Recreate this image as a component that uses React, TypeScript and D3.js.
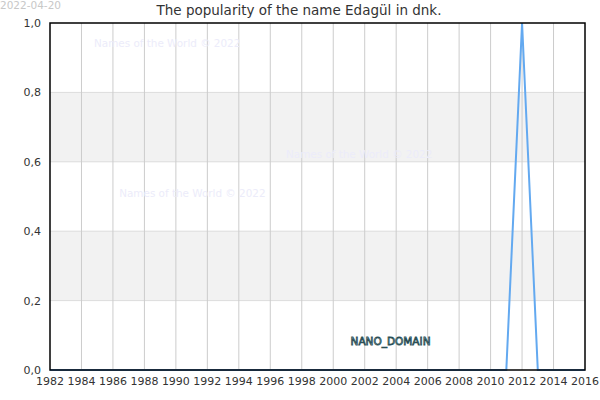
import React from 'react';
import * as d3 from 'd3';

const years: number[] = [
  1982, 1983, 1984, 1985, 1986, 1987, 1988, 1989, 1990, 1991, 1992, 1993,
  1994, 1995, 1996, 1997, 1998, 1999, 2000, 2001, 2002, 2003, 2004, 2005,
  2006, 2007, 2008, 2009, 2010, 2011, 2012, 2013, 2014, 2015, 2016,
];
const popularity: number[] = [
  0, 0, 0, 0, 0, 0, 0, 0, 0, 0, 0, 0,
  0, 0, 0, 0, 0, 0, 0, 0, 0, 0, 0, 0,
  0, 0, 0, 0, 0, 0, 1, 0, 0, 0, 0,
];
const xTicks: number[] = d3.range(1982, 2017, 2);
const yTicks: number[] = [0, 0.2, 0.4, 0.6, 0.8, 1.0];
const bands: [number, number][] = [[0.2, 0.4], [0.6, 0.8]];
const watermarks: { x: number; y: number }[] = [
  { x: 1984.8, y: 0.93 },
  { x: 1997, y: 0.61 },
  { x: 1986.4, y: 0.498 },
];

const W = 600;
const H = 400;
const margin = { top: 23, right: 15, bottom: 30, left: 50 };

export default function App() {
  const x = d3.scaleLinear().domain([1982, 2016]).range([margin.left, W - margin.right]);
  const y = d3.scaleLinear().domain([0, 1]).range([H - margin.bottom, margin.top]);

  const line = d3.line<number>()
    .x((_, i) => x(years[i]))
    .y(d => y(d));

  const font = 'DejaVu Sans, sans-serif';

  return (
    <svg width={W} height={H} style={{ position: 'absolute', left: 0, top: 0, background: '#fff' }}>
      <text x={0} y={9} fontSize={10.5} fill="#c8c8c8" fontFamily={font}>2022-04-20</text>
      <text x={299} y={15} fontSize={13.5} fill="#333" textAnchor="middle" fontFamily={font}>
        The popularity of the name Edagül in dnk.
      </text>

      {/* bands */}
      {bands.map(([a, b]) => (
        <rect key={a} x={x(1982)} y={y(b)} width={x(2016) - x(1982)} height={y(a) - y(b)} fill="#f2f2f2" />
      ))}
      {/* horizontal grid */}
      {yTicks.slice(1, -1).map(t => (
        <line key={t} x1={x(1982)} x2={x(2016)} y1={y(t)} y2={y(t)} stroke="#dcdcdc" strokeWidth={1} />
      ))}
      {/* vertical grid */}
      {xTicks.slice(1, -1).map(t => (
        <line key={t} x1={x(t)} x2={x(t)} y1={y(1)} y2={y(0)} stroke="#cccccc" strokeWidth={1} />
      ))}

      {watermarks.map((w, i) => (
        <text key={i} x={x(w.x)} y={y(w.y)} fontSize={10.4} fill="#ececfa" fontFamily={font}>
          Names of the World © 2022
        </text>
      ))}

      <text x={x(2001.1)} y={y(0.072)} fontSize={10.5} fontFamily={font}
        fill="#b4e0e0" stroke="#2b4e55" strokeWidth={0.8}>
        NANO_DOMAIN
      </text>

      <path d={line(popularity) || ''} fill="none" stroke="#63a9f0" strokeWidth={2} />

      {/* frame */}
      <rect x={x(1982)} y={y(1)} width={x(2016) - x(1982)} height={y(0) - y(1)} fill="none" stroke="#000" strokeWidth={1.5} />

      {yTicks.map(t => (
        <text key={t} x={x(1982) - 9} y={y(t) + 4} fontSize={11} fill="#333" textAnchor="end" fontFamily={font}>
          {t.toFixed(1).replace('.', ',')}
        </text>
      ))}
      {xTicks.map(t => (
        <text key={t} x={x(t)} y={y(0) + 15} fontSize={11} fill="#333" textAnchor="middle" fontFamily={font}>
          {t}
        </text>
      ))}
    </svg>
  );
}
